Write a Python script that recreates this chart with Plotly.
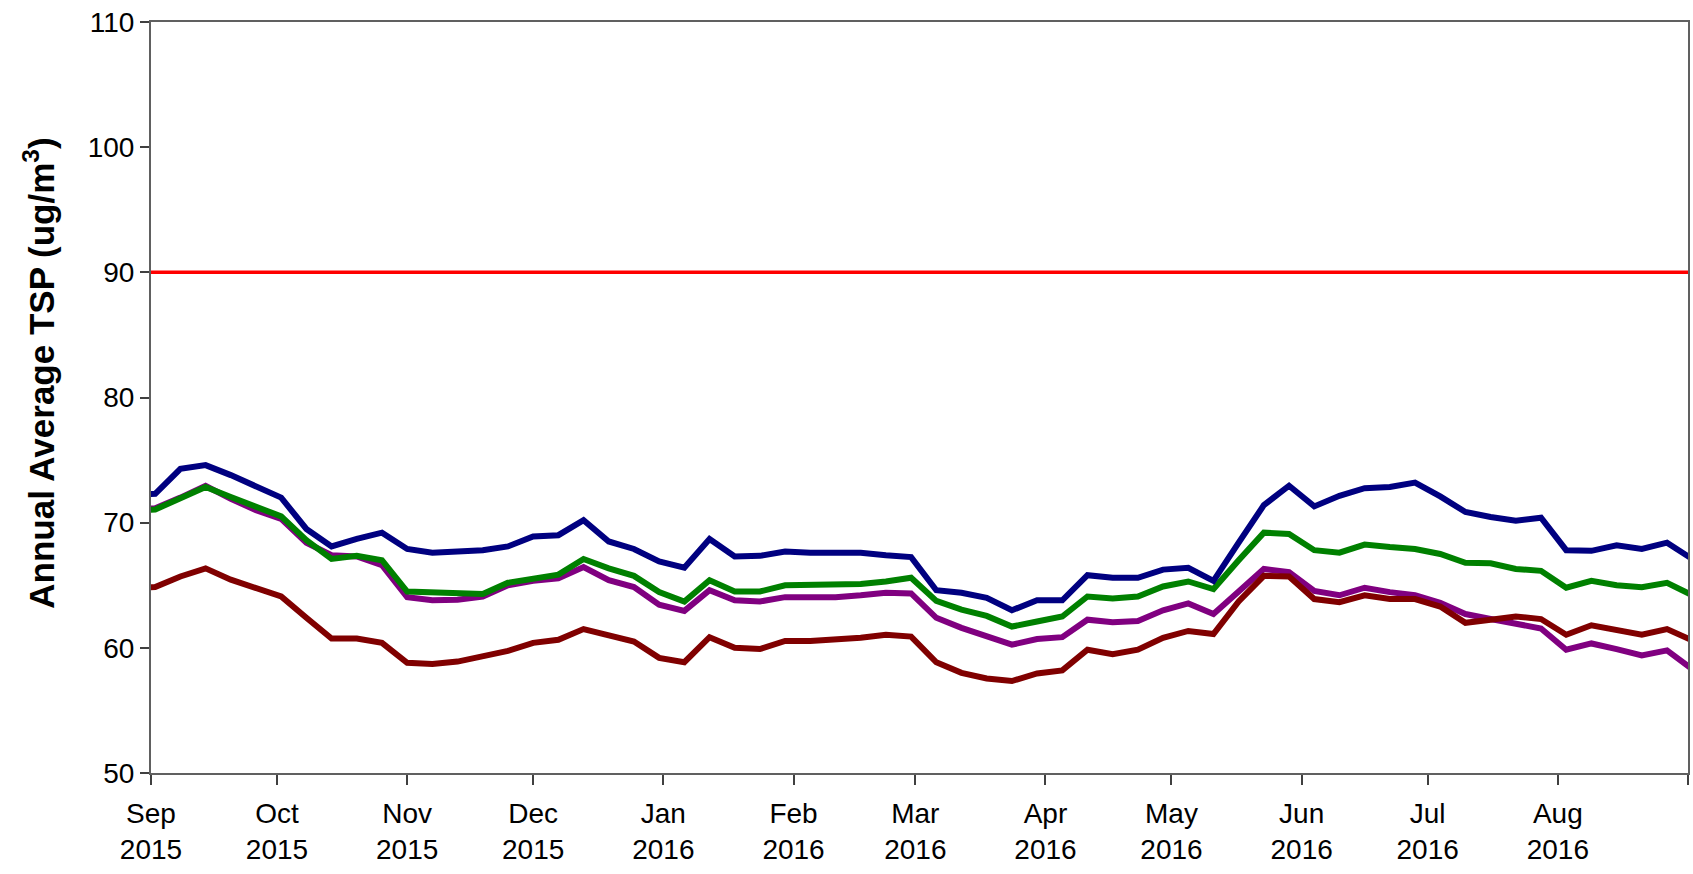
import datetime as dt
import plotly.graph_objects as go

# Sampling every 6 days (first and last points fall just outside the axis range)
start_date = dt.date(2015, 8, 27)
step_days = 6
n_points = 63
dates = [start_date + dt.timedelta(days=step_days * i) for i in range(n_points)]

site_blue = [72.2, 72.3, 74.3, 74.6, 73.8, 72.9, 72.0, 69.5, 68.1, 68.7,
             69.2, 67.9, 67.6, 67.7, 67.8, 68.1, 68.9, 69.0, 70.2, 68.5,
             67.9, 66.9, 66.4, 68.7, 67.3, 67.35, 67.7, 67.6, 67.6, 67.6,
             67.4, 67.25, 64.6, 64.4, 64.0, 63.0, 63.8, 63.8, 65.8, 65.6,
             65.6, 66.25, 66.4, 65.35, 68.4, 71.4, 72.95, 71.3, 72.15, 72.75,
             72.85, 73.2, 72.1, 70.85, 70.45, 70.15, 70.4, 67.8, 67.75, 68.2,
             67.9, 68.4, 67.1]

site_green = [70.9, 71.05, 71.95, 72.85, 72.05, 71.3, 70.5, 68.6, 67.1, 67.35,
              67.0, 64.5, 64.45, 64.35, 64.3, 65.2, 65.5, 65.85, 67.1, 66.35,
              65.75, 64.45, 63.7, 65.4, 64.5, 64.5, 65.0, 65.0, 65.05, 65.1,
              65.3, 65.6, 63.75, 63.05, 62.55, 61.7, 62.1, 62.5, 64.1, 63.95,
              64.1, 64.9, 65.3, 64.7, 67.0, 69.2, 69.1, 67.8, 67.6, 68.25,
              68.05, 67.9, 67.5, 66.8, 66.75, 66.3, 66.15, 64.8, 65.35, 65.0,
              64.85, 65.2, 64.2]

site_purple = [71.0, 71.15, 72.0, 72.95, 71.9, 71.0, 70.3, 68.4, 67.4, 67.3,
               66.6, 64.05, 63.8, 63.85, 64.1, 65.0, 65.35, 65.55, 66.45, 65.4,
               64.85, 63.45, 62.95, 64.6, 63.8, 63.7, 64.05, 64.05, 64.05, 64.2,
               64.4, 64.35, 62.4, 61.6, 60.95, 60.25, 60.7, 60.85, 62.25, 62.05,
               62.15, 63.0, 63.55, 62.7, 64.5, 66.3, 66.05, 64.55, 64.2, 64.8,
               64.45, 64.2, 63.6, 62.7, 62.3, 61.95, 61.55, 59.85, 60.35, 59.9,
               59.4, 59.8, 58.3]

site_red = [64.8, 64.85, 65.7, 66.35, 65.45, 64.8, 64.1, 62.4, 60.75, 60.75,
            60.4, 58.8, 58.7, 58.9, 59.3, 59.75, 60.4, 60.65, 61.5, 61.05,
            60.5, 59.2, 58.85, 60.85, 60.0, 59.9, 60.55, 60.55, 60.65, 60.8,
            61.05, 60.9, 58.85, 58.0, 57.55, 57.35, 57.95, 58.2, 59.85, 59.5,
            59.85, 60.8, 61.35, 61.1, 63.7, 65.75, 65.7, 63.9, 63.65, 64.2,
            63.9, 63.9, 63.3, 62.0, 62.25, 62.5, 62.3, 61.05, 61.8, 61.45,
            61.05, 61.5, 60.6]

standard_value = 90
x_range = ["2015-09-01", "2016-09-01"]
y_range = [50, 110]
y_title = "<b>Annual Average TSP (ug/m<sup>3</sup>)</b>"

font_family = "Arial, Liberation Sans, sans-serif"

fig = go.Figure()

fig.add_trace(go.Scatter(x=x_range, y=[standard_value, standard_value], mode="lines",
                         line=dict(color="#FF0000", width=3.5), showlegend=False))

series = [
    (site_purple, "#800080"),
    (site_red, "#800000"),
    (site_green, "#008000"),
    (site_blue, "#000080"),
]
for vals, col in series:
    fig.add_trace(go.Scatter(x=dates, y=vals, mode="lines",
                             line=dict(color=col, width=6), showlegend=False))

fig.update_layout(
    width=1693, height=874,
    margin=dict(l=151, r=5, t=22, b=101),
    paper_bgcolor="white", plot_bgcolor="white",
    font=dict(family=font_family, color="black", size=28),
)

fig.update_xaxes(
    type="date", range=x_range, dtick="M1", tick0="2015-09-01",
    tickformat="%b<br>%Y", ticks="outside", ticklen=10, tickwidth=1.5,
    tickcolor="#404040", showgrid=False, zeroline=False, automargin=False,
    showline=True, linecolor="#606060", linewidth=2, mirror=True,
    tickfont=dict(size=28, family=font_family, color="black"),
    ticklabelstandoff=4,
)

fig.update_yaxes(
    range=y_range, dtick=10, tick0=50, ticks="outside", ticklen=9, tickwidth=1.5,
    tickcolor="#404040", showgrid=False, zeroline=False, automargin=False,
    showline=True, linecolor="#606060", linewidth=2, mirror=True,
    tickfont=dict(size=28, family=font_family, color="black"),
)

fig.add_annotation(
    text=y_title, xref="paper", yref="paper", x=-0.0729, y=0.533,
    xanchor="center", yanchor="middle", textangle=-90, showarrow=False,
    font=dict(size=35, family=font_family, color="black"),
)

fig.write_html("out.html",
               config={"displayModeBar": False},
               post_script="document.body.style.margin='0';document.body.style.overflow='hidden';")
